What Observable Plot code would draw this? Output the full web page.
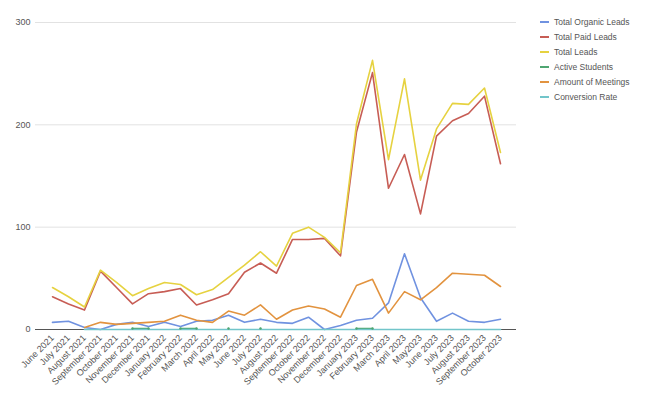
<!DOCTYPE html>
<html><head><meta charset="utf-8">
<script src="https://cdn.jsdelivr.net/npm/d3@7"></script>
<script src="https://cdn.jsdelivr.net/npm/@observablehq/plot@0.6"></script>
<style>
body{margin:0;background:#fff;font-family:"Liberation Sans",Arial,sans-serif;}
#wrap{position:relative;width:645px;height:399px;overflow:hidden;}
#legend{position:absolute;left:540px;top:14.5px;font-size:8.5px;color:#555;}
.item{display:flex;align-items:center;height:15px;white-space:nowrap;}
.sw{width:9px;height:2.5px;margin-right:5px;}
</style></head><body><div id="wrap"><div id="chart"></div><div id="legend"></div></div>
<script>
const months = ["June 2021","July 2021","August 2021","September 2021","October 2021","November 2021","December 2021","January 2022","February 2022","March 2022","April 2022","May 2022","June 2022","July 2022","August 2022","September 2022","October 2022","November 2022","December 2022","January 2023","February 2023","March 2023","April 2023","May2023","June 2023","July 2023","August 2023","September 2023","October 2023"];
const seriesNames = ["Total Organic Leads","Total Paid Leads","Total Leads","Active Students","Amount of Meetings","Conversion Rate"];
const seriesColors = ["#7092e0","#c75d55","#e6d240","#4fa672","#e2933f","#72c5ca"];
const organicLeads = [7,8,2,0,5,7,3,7,3,8,9,14,7,10,7,6,12,0,4,9,11,26,74,31,8,16,8,7,10];
const paidLeads = [32,25,19,57,41,25,35,37,40,24,29,35,56,65,55,88,88,89,72,193,251,138,171,113,189,204,211,228,162];
const totalLeads = [41,32,22,58,46,33,40,46,44,34,39,51,63,76,62,94,100,90,75,201,263,166,245,146,196,221,220,236,173];
const activeStudents = [null,null,null,null,null,1,1,null,1,1,null,1,null,1,null,null,null,null,null,1,1,null,null,null,null,null,null,null,null];
const meetings = [null,null,2,7,5,6,7,8,14,9,7,18,14,24,10,19,23,20,12,43,49,16,37,29,41,55,54,53,42];
const conversionRate = [null,null,0,0,0,0,0,0,0,0,0,0,0,0,0,0,0,0,0,0,0,0,0,0,0,0,0,0,0];
const yTicks = [0,100,200,300];
const gridTicks = [100,200,300];

const allSeries = [organicLeads, paidLeads, totalLeads, activeStudents, meetings, conversionRate];
const rows = [];
allSeries.forEach((arr, s) => arr.forEach((v, i) => rows.push({series: seriesNames[s], month: months[i], value: v})));
const studentRows = rows.filter(d => d.series === "Active Students" && d.value != null);

const chart = Plot.plot({
  width: 645, height: 399,
  marginLeft: 35, marginRight: 129, marginTop: 22, marginBottom: 70,
  style: {fontFamily: '"Liberation Sans", Arial, sans-serif', color: "#555", background: "#fff"},
  x: {type: "point", domain: months, padding: 0.5, label: null},
  y: {domain: [0, 300], label: null},
  color: {domain: seriesNames, range: seriesColors},
  marks: [
    Plot.ruleY(gridTicks, {stroke: "#e2e2e2", strokeWidth: 1}),
    Plot.ruleY([0], {stroke: "#555", strokeWidth: 1}),
    Plot.axisY({ticks: yTicks, tickSize: 0, tickPadding: 5, fontSize: 9, label: null}),
    Plot.axisX({tickSize: 0, tickRotate: -45, tickPadding: 7, fontSize: 9, label: null}),
    Plot.line(rows, {x: "month", y: "value", z: "series", stroke: "series", strokeWidth: 1.6}),
    Plot.dot(studentRows, {x: "month", y: "value", r: 1.2, fill: "series", stroke: null})
  ]
});
document.getElementById("chart").appendChild(chart);

const legend = document.getElementById("legend");
seriesNames.forEach((n, i) => {
  const it = document.createElement("div"); it.className = "item";
  const sw = document.createElement("span"); sw.className = "sw"; sw.style.background = seriesColors[i];
  const tx = document.createElement("span"); tx.textContent = n;
  it.appendChild(sw); it.appendChild(tx); legend.appendChild(it);
});
</script></body></html>
